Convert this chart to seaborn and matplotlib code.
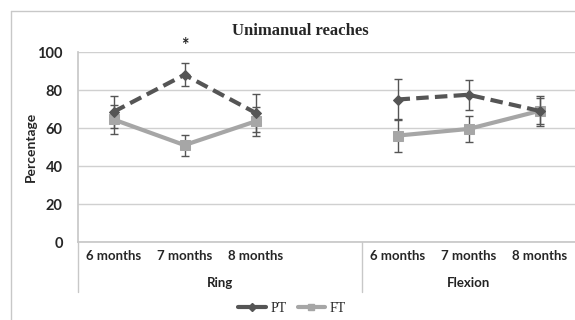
import numpy as np
import pandas as pd
import matplotlib
matplotlib.use("Agg")
import matplotlib.pyplot as plt
import seaborn as sns

groups = ["Ring", "Flexion"]
months = ["6 months", "7 months", "8 months"]
pt_mean = [68.5, 88, 68, 75, 77.5, 69]
pt_err = [8.5, 6, 10, 11, 8, 8]
ft_mean = [64.5, 51, 63.5, 56, 59.5, 69]
ft_err = [7.5, 5.5, 7.5, 8.5, 7, 7]
yticks = [0, 20, 40, 60, 80, 100]

sns.set_theme(style="white")
plt.rcParams["font.family"] = ["Lato", "DejaVu Sans"]

fig = plt.figure(figsize=(5.75, 3.2), dpi=100)
ax = fig.add_axes([78/575, 1-242/320, 1-78/575, (242-52)/320])

# positions: 3 slots for Ring, a blank slot, 3 slots for Flexion
pos = [0, 1, 2, 4, 5, 6]
rows = []
for i, p in enumerate(pos):
    g = groups[0] if i < 3 else groups[1]
    rows.append(dict(x=p, y=pt_mean[i], e=pt_err[i], series="PT", group=g))
    rows.append(dict(x=p, y=ft_mean[i], e=ft_err[i], series="FT", group=g))
df = pd.DataFrame(rows)

styles = {"PT": dict(color="#555555", ls=(0, (3, 1.5)), marker="D", ms=5),
          "FT": dict(color="#a6a6a6", ls="-", marker="s", ms=7)}

for s in ["FT", "PT"]:
    st = styles[s]
    for g in groups:
        d = df[(df.series == s) & (df.group == g)]
        ax.errorbar(d.x, d.y, yerr=d.e, fmt="none", ecolor="#555555",
                    elinewidth=1, capsize=3, capthick=1, zorder=2)
        sns.lineplot(data=d, x="x", y="y", ax=ax, color=st["color"],
                     linestyle=st["ls"], linewidth=3, marker=st["marker"],
                     markersize=st["ms"], markeredgecolor=st["color"],
                     legend=False, zorder=3 if s == "PT" else 2.5)

ax.set_xlim(-0.5, 6.5)
ax.set_ylim(0, 100)
ax.set_yticks(yticks)
ax.set_yticklabels([str(v) for v in yticks], fontsize=10.5, fontweight="bold")
ax.tick_params(axis="y", length=0, pad=11)
ax.set_xticks(pos)
ax.set_xticklabels(months * 2, fontsize=9.5, fontweight="bold")
ax.tick_params(axis="x", length=0, pad=6)
ax.set_xlabel("")
ax.set_ylabel("Percentage", fontsize=10, fontweight="bold")
ax.yaxis.set_label_coords((37 - 78) / 497, 0.5)
ax.yaxis.grid(True, color="#d0d0d0", linewidth=1)
for sp in ["top", "right"]:
    ax.spines[sp].set_visible(False)
ax.spines["left"].set_color("#c8c8c8")
ax.spines["bottom"].set_color("#c8c8c8")

# group labels and separators
tr = ax.get_xaxis_transform()
bounds = [-0.5, 3.5, 6.5]
for k, g in enumerate(groups):
    c = (bounds[k] + bounds[k+1]) / 2
    ax.text(c, -0.215, g, transform=tr, ha="center", va="center",
            fontsize=9.5, fontweight="bold", color="#222222")
for b in bounds[:2]:
    ax.plot([b, b], [0, -0.265], transform=tr, color="#c8c8c8", lw=1, clip_on=False)

ax.text(1, 103.5, "*", ha="center", va="center", fontsize=13, fontweight="bold",
        clip_on=False)

fig.text(300/575, 1-31/320, "Unimanual reaches", ha="center", va="center",
         fontsize=12, fontweight="bold", family=["Liberation Serif", "DejaVu Serif"])

# chart frame
fig.add_artist(plt.Line2D([11/575, 11/575], [0, 1-11/320], color="#c8c8c8", lw=1))
fig.add_artist(plt.Line2D([11/575, 1], [1-11/320, 1-11/320], color="#c8c8c8", lw=1))

handles = [plt.Line2D([], [], color="#555555", lw=3, marker="D", ms=4),
           plt.Line2D([], [], color="#a6a6a6", lw=3, marker="s", ms=5)]
fig.legend(handles, ["PT", "FT"], loc="center", bbox_to_anchor=(292/575, 1-308/320),
           ncol=2, frameon=False, handlelength=2, columnspacing=0.8, handletextpad=0.3,
           prop=dict(family=["Liberation Serif", "DejaVu Serif"], size=10))

fig.savefig("out.png", dpi=100)
